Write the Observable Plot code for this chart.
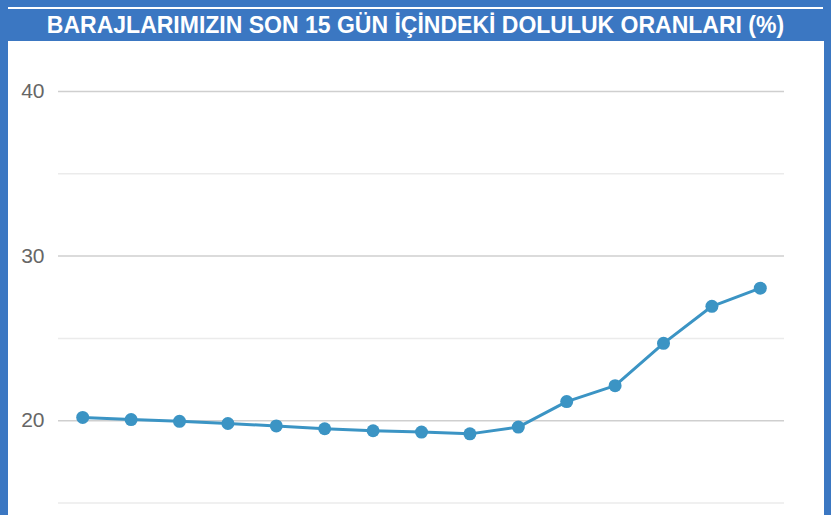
<!DOCTYPE html>
<html><head><meta charset="utf-8">
<script src="https://cdn.jsdelivr.net/npm/d3@7"></script>
<script src="https://cdn.jsdelivr.net/npm/@observablehq/plot@0.6"></script>
<style>
html,body{margin:0;padding:0;background:#3b77c2;}
#frame{position:relative;width:831px;height:515px;background:#3b77c2;overflow:hidden;}
#topline{position:absolute;left:8px;top:7px;width:815px;height:2px;background:#fff;}
#title{position:absolute;left:0;top:12px;width:831px;text-align:center;color:#fff;font-family:"Liberation Sans",Arial,sans-serif;font-weight:bold;font-size:23px;line-height:27px;white-space:nowrap;}
#panel{position:absolute;left:8px;top:41px;width:816px;height:474px;background:#fff;overflow:hidden;}
</style></head>
<body><div id="frame"><div id="topline"></div><div id="title">BARAJLARIMIZIN SON 15 GÜN İÇİNDEKİ DOLULUK ORANLARI (%)</div><div id="panel"></div></div>
<script>
const days = [1,2,3,4,5,6,7,8,9,10,11,12,13,14,15];
const values = [20.2,20.07,19.96,19.83,19.68,19.51,19.39,19.31,19.2,19.61,21.16,22.13,24.7,26.95,28.05];
const majorTicks = [20,30,40];
const minorTicks = [15,25,35];
const data = days.map((d,i)=>({day:d,value:values[i]}));
const top0 = 41;
const chart = Plot.plot({
  width: 816, height: 474,
  marginLeft: 50, marginRight: 40, marginTop: 0, marginBottom: 0,
  x: {domain:[0.5,15.5], axis:null, label:null},
  y: {domain:[15,40], range:[502.5-top0, 91-top0], label:null},
  style:{background:"#fff", fontFamily:"'Liberation Sans', Arial, sans-serif"},
  marks: [
    Plot.ruleY(minorTicks, {stroke:"#ebebeb", strokeWidth:1.5}),
    Plot.ruleY(majorTicks, {stroke:"#cfcfcf", strokeWidth:1.5}),
    Plot.axisY(majorTicks, {tickSize:0, tickPadding:14, fontSize:21, fill:"#666", label:null, tickFormat:d=>String(d)}),
    Plot.line(data, {x:"day", y:"value", stroke:"#3b94c4", strokeWidth:3}),
    Plot.dot(data, {x:"day", y:"value", r:6.5, fill:"#3b94c4", stroke:"none"})
  ]
});
document.getElementById("panel").appendChild(chart);
</script></body></html>
